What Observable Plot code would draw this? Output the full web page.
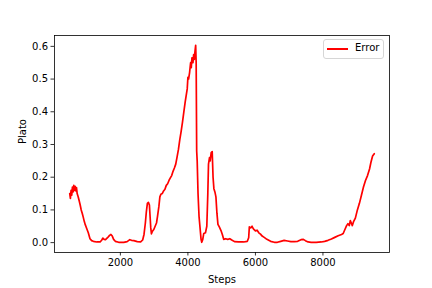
<!DOCTYPE html>
<html>
<head>
<meta charset="utf-8">
<script src="https://cdn.jsdelivr.net/npm/d3@7"></script>
<script src="https://cdn.jsdelivr.net/npm/@observablehq/plot@0.6"></script>
<style>
  html, body { margin: 0; padding: 0; background: #fff; }
  #wrap { position: relative; width: 432px; height: 288px; font-family: "DejaVu Sans", sans-serif; }
  #legend { position: absolute; left: 323px; top: 39px; width: 61px; height: 20px; border: 1px solid #d6d6d6; border-radius: 3px; background: rgba(255,255,255,0.8); box-sizing: border-box; font-size: 10px; color: #000; }
  #legend .sw { position: absolute; left: 3px; top: 8px; width: 21px; height: 2px; background: #ff0000; }
  #legend .tx { position: absolute; left: 31px; top: 2px; line-height: 12px; }
</style>
</head>
<body>
<div id="wrap"></div>
<script>
const steps = [500,520,540,560,580,600,620,640,660,680,700,720,750,780,810,840,870,900,930,960,1000,1050,1100,1150,1200,1300,1400,1450,1480,1520,1560,1620,1680,1720,1760,1800,1850,1950,2100,2200,2280,2330,2400,2500,2600,2660,2700,2740,2770,2800,2830,2860,2880,2900,2920,2950,2990,3030,3070,3100,3140,3170,3200,3240,3280,3320,3360,3400,3440,3480,3520,3560,3600,3640,3680,3720,3760,3800,3840,3880,3920,3950,3980,4000,4020,4050,4080,4100,4120,4150,4170,4190,4210,4230,4245,4260,4275,4300,4330,4360,4390,4410,4440,4470,4520,4560,4590,4610,4640,4660,4690,4720,4745,4770,4800,4830,4860,4890,4930,4980,5020,5060,5120,5180,5240,5300,5380,5500,5650,5760,5800,5820,5860,5900,5940,6000,6050,6100,6150,6200,6260,6340,6450,6560,6650,6750,6850,6950,7050,7150,7250,7350,7420,7480,7560,7650,7800,7950,8050,8150,8250,8350,8450,8550,8600,8650,8700,8740,8780,8810,8840,8870,8910,8960,9020,9080,9140,9200,9260,9320,9380,9420,9470,9520];
const plato = [0.150,0.135,0.160,0.145,0.170,0.155,0.175,0.160,0.172,0.158,0.168,0.150,0.140,0.128,0.115,0.100,0.090,0.078,0.065,0.055,0.044,0.030,0.012,0.006,0.004,0.002,0.002,0.008,0.014,0.010,0.009,0.015,0.022,0.025,0.020,0.010,0.004,0.001,0.001,0.003,0.009,0.007,0.006,0.003,0.002,0.008,0.025,0.060,0.095,0.120,0.123,0.115,0.080,0.045,0.027,0.035,0.040,0.050,0.060,0.080,0.110,0.140,0.148,0.150,0.158,0.163,0.175,0.180,0.190,0.198,0.205,0.218,0.228,0.240,0.262,0.285,0.315,0.340,0.368,0.400,0.430,0.450,0.470,0.505,0.500,0.520,0.550,0.535,0.565,0.550,0.575,0.560,0.585,0.603,0.550,0.280,0.250,0.150,0.080,0.045,0.010,0.001,0.010,0.028,0.030,0.050,0.150,0.240,0.260,0.250,0.275,0.278,0.200,0.165,0.155,0.140,0.090,0.056,0.048,0.037,0.025,0.010,0.012,0.010,0.012,0.008,0.003,0.002,0.002,0.004,0.015,0.048,0.045,0.050,0.042,0.036,0.038,0.030,0.026,0.020,0.016,0.010,0.004,0.001,0.001,0.004,0.007,0.005,0.003,0.003,0.004,0.009,0.010,0.006,0.002,0.001,0.001,0.002,0.004,0.007,0.011,0.016,0.021,0.025,0.028,0.040,0.052,0.058,0.052,0.067,0.060,0.052,0.065,0.075,0.100,0.120,0.145,0.170,0.190,0.205,0.225,0.245,0.265,0.272];
const xTicks = [2000, 4000, 6000, 8000];
const yTicks = [0.0, 0.1, 0.2, 0.3, 0.4, 0.5, 0.6];
const seriesName = "Error";
const xLabel = "Steps";
const yLabel = "Plato";

const data = steps.map((s, i) => ({step: s, value: plato[i]}));

const chart = Plot.plot({
  width: 432,
  height: 288,
  marginLeft: 54,
  marginRight: 43,
  marginTop: 35,
  marginBottom: 36,
  style: {fontFamily: "DejaVu Sans, sans-serif", fontSize: "10px", color: "#000", background: "#fff"},
  x: {domain: [49, 9971]},
  y: {domain: [-0.0302, 0.6332]},
  marks: [
    Plot.line(data, {x: "step", y: "value", stroke: "#ff0000", strokeWidth: 1.7}),
    Plot.frame({stroke: "#000", strokeWidth: 0.8}),
    Plot.axisX({ticks: xTicks, tickSize: 3.5, tickPadding: 3, tickFormat: d => String(d), label: null, fontSize: 10, stroke: "#000", strokeWidth: 0.8}),
    Plot.axisY({ticks: yTicks, tickSize: 3.5, tickPadding: 3, tickFormat: d3.format(".1f"), label: null, fontSize: 10, stroke: "#000", strokeWidth: 0.8}),
    Plot.text([xLabel], {frameAnchor: "bottom", dy: 30, fontSize: 10, fill: "#000"}),
    Plot.text([yLabel], {frameAnchor: "left", dx: -32, rotate: -90, fontSize: 10, fill: "#000"})
  ]
});

const wrap = document.getElementById("wrap");
wrap.appendChild(chart);
const leg = document.createElement("div");
leg.id = "legend";
leg.innerHTML = '<div class="sw"></div><div class="tx">' + seriesName + '</div>';
wrap.appendChild(leg);
</script>
</body>
</html>
